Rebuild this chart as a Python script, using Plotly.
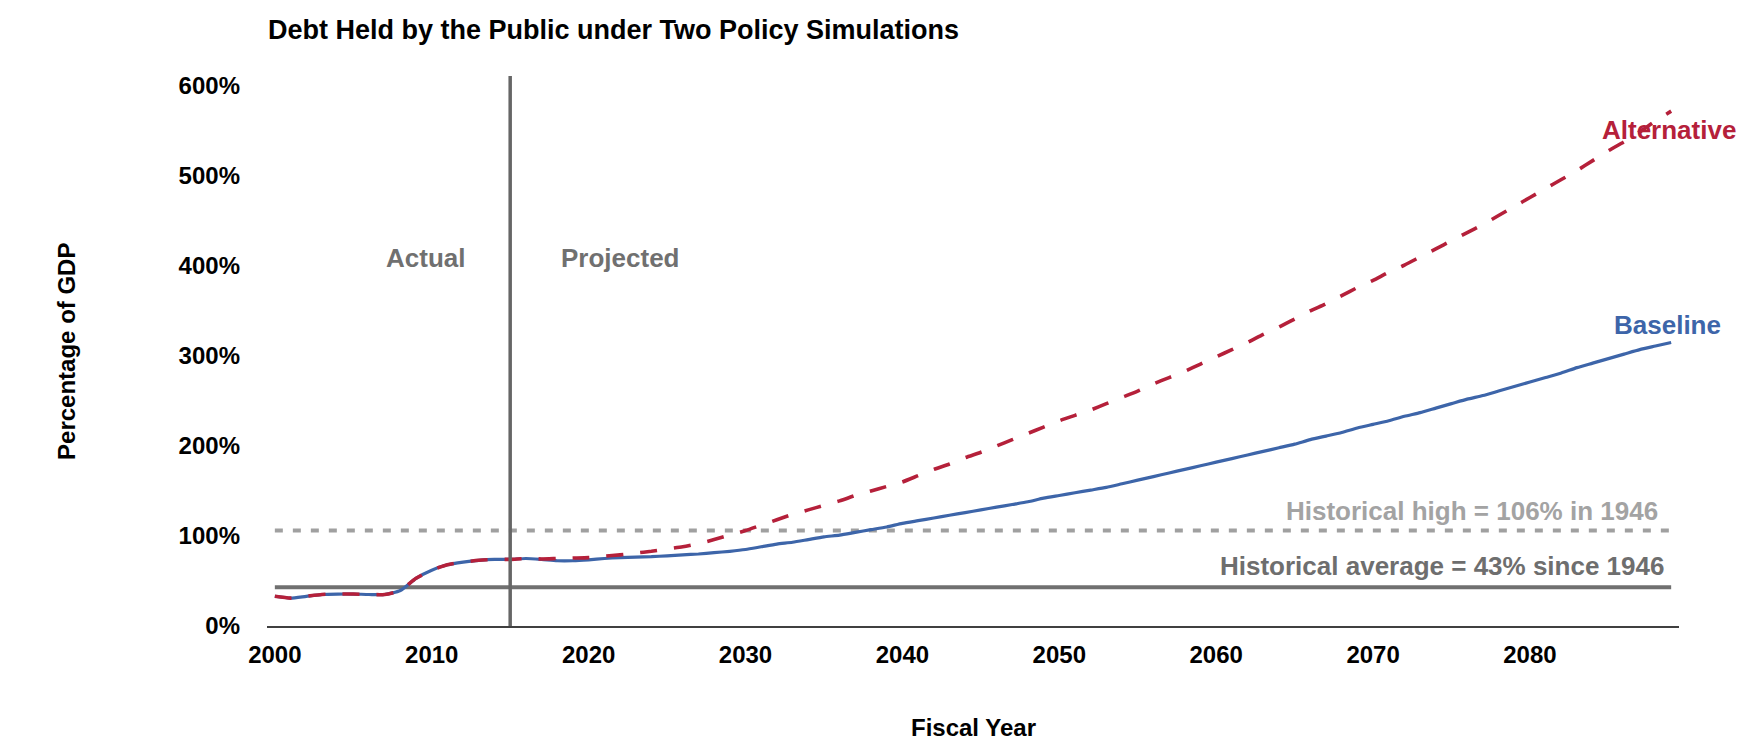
import plotly.graph_objects as go

years = list(range(2000, 2090))

baseline = [33, 31, 33, 35, 35.5, 35.5, 35, 35, 39.5, 53,
            62, 68, 71, 73, 74, 74, 75, 74, 72.5, 72.5,
            73.5, 75, 76, 76.5, 77, 78, 79, 80, 81.5, 83,
            85, 88, 91, 93, 96, 99, 101, 104, 107, 110,
            114, 117, 120, 123, 126, 129, 132, 135, 138, 142,
            145, 148, 151, 154, 158, 162, 166, 170, 174, 178,
            182, 186, 190, 194, 198, 202, 207, 211, 215, 220,
            224, 228, 233, 237, 242, 247, 252, 256, 261, 266,
            271, 276, 281, 287, 292, 297, 302, 307, 311, 315]

alternative = [33, 31, 33, 35, 35.5, 35.5, 35, 35, 39.5, 53,
               62, 68, 71, 73, 74, 74, 75, 74.5, 75, 75.5,
               76, 77.5, 79, 81, 83, 85.5, 88, 91.5, 96, 101,
               106, 112, 118, 124, 129, 134, 139, 145, 150, 155,
               160, 167, 174, 180, 187, 193, 200, 207, 214, 221,
               228, 234, 240, 247, 254, 261, 269, 276, 283, 291,
               299, 307, 315, 324, 332, 341, 350, 358, 367, 376,
               384, 393, 401, 410, 419, 428, 437, 446, 456, 466,
               476, 486, 496, 506, 517, 528, 538, 549, 561, 572]

x_tick_vals = [2000, 2010, 2020, 2030, 2040, 2050, 2060, 2070, 2080]
x_tick_text = ["2000", "2010", "2020", "2030", "2040", "2050", "2060", "2070", "2080"]
y_tick_vals = [0, 100, 200, 300, 400, 500, 600]
y_tick_text = ["0%", "100%", "200%", "300%", "400%", "500%", "600%"]

historical_high = 106
historical_avg = 43
split_year = 2015

FONT = "Liberation Sans, Arial, sans-serif"
BLUE = "#3d65a9"
RED = "#b5203a"

fig = go.Figure()
fig.add_trace(go.Scatter(x=years, y=baseline, mode="lines", name="Baseline",
                         line=dict(color=BLUE, width=3.2, shape="spline", smoothing=0.6),
                         showlegend=False))
fig.add_trace(go.Scatter(x=years, y=alternative, mode="lines", name="Alternative",
                         line=dict(color=RED, width=3.6, dash="17px,17px", shape="spline", smoothing=0.6),
                         showlegend=False))

# reference lines
fig.add_shape(type="line", xref="x", yref="y", x0=years[0], x1=years[-1],
              y0=historical_high, y1=historical_high, layer="below",
              line=dict(color="#a0a0a0", width=4, dash="8px,10px"))
fig.add_shape(type="line", xref="x", yref="y", x0=years[0], x1=years[-1],
              y0=historical_avg, y1=historical_avg, layer="below",
              line=dict(color="#707070", width=4))
fig.add_shape(type="line", xref="x", yref="paper", x0=split_year, x1=split_year,
              y0=0, y1=1, layer="above",
              line=dict(color="#666666", width=3.5))

def ann(text, x, y, color, xanchor="center", xref="x", yref="y", size=26, angle=0):
    fig.add_annotation(text=text, x=x, y=y, xref=xref, yref=yref, showarrow=False,
                       xanchor=xanchor, yanchor="middle", textangle=angle,
                       font=dict(family=FONT, size=size, color=color, weight="bold"))

ann("Actual", 2009.6, 409, "#707070")
ann("Projected", 2022.05, 409, "#707070")
ann("Alternative", 1.0418, 0.9018, RED, xanchor="right", xref="paper", yref="paper")
ann("Baseline", 1.0312, 0.5473, BLUE, xanchor="right", xref="paper", yref="paper")
ann("Historical high = 106% in 1946", 2088.3, 128, "#a3a3a3", xanchor="right")
ann("Historical average = 43% since 1946", 2088.7, 67, "#6e6e6e", xanchor="right")

# titles
ann("Debt Held by the Public under Two Policy Simulations", -0.001, 1.0836, "#000000",
    xanchor="left", xref="paper", yref="paper", size=27)
ann("Percentage of GDP", -0.1424, 0.5, "#000000", xref="paper", yref="paper", size=24, angle=-90)
ann("Fiscal Year", 0.5, -0.1837, "#000000", xref="paper", yref="paper", size=24)

# page body has an 8px margin, so the figure is sized to fill the window after that offset
fig.update_layout(
    width=1746, height=735,
    margin=dict(l=259, r=75, t=68, b=117),
    paper_bgcolor="white", plot_bgcolor="white",
    font=dict(family=FONT, color="#000000"),
    showlegend=False,
)
fig.update_xaxes(range=[1999.5, 2089.5], tickmode="array", tickvals=x_tick_vals,
                 ticktext=x_tick_text, showgrid=False, zeroline=False,
                 showline=True, linecolor="#404040", linewidth=2, ticks="",
                 ticklabelstandoff=6,
                 tickfont=dict(family=FONT, size=24, color="#000000", weight="bold"))
fig.update_yaxes(range=[0, 611], tickmode="array", tickvals=y_tick_vals,
                 ticktext=y_tick_text, showgrid=False, zeroline=False,
                 showline=False, ticks="", ticklabelstandoff=26,
                 tickfont=dict(family=FONT, size=24, color="#000000", weight="bold"))

fig.write_html("out.html")
